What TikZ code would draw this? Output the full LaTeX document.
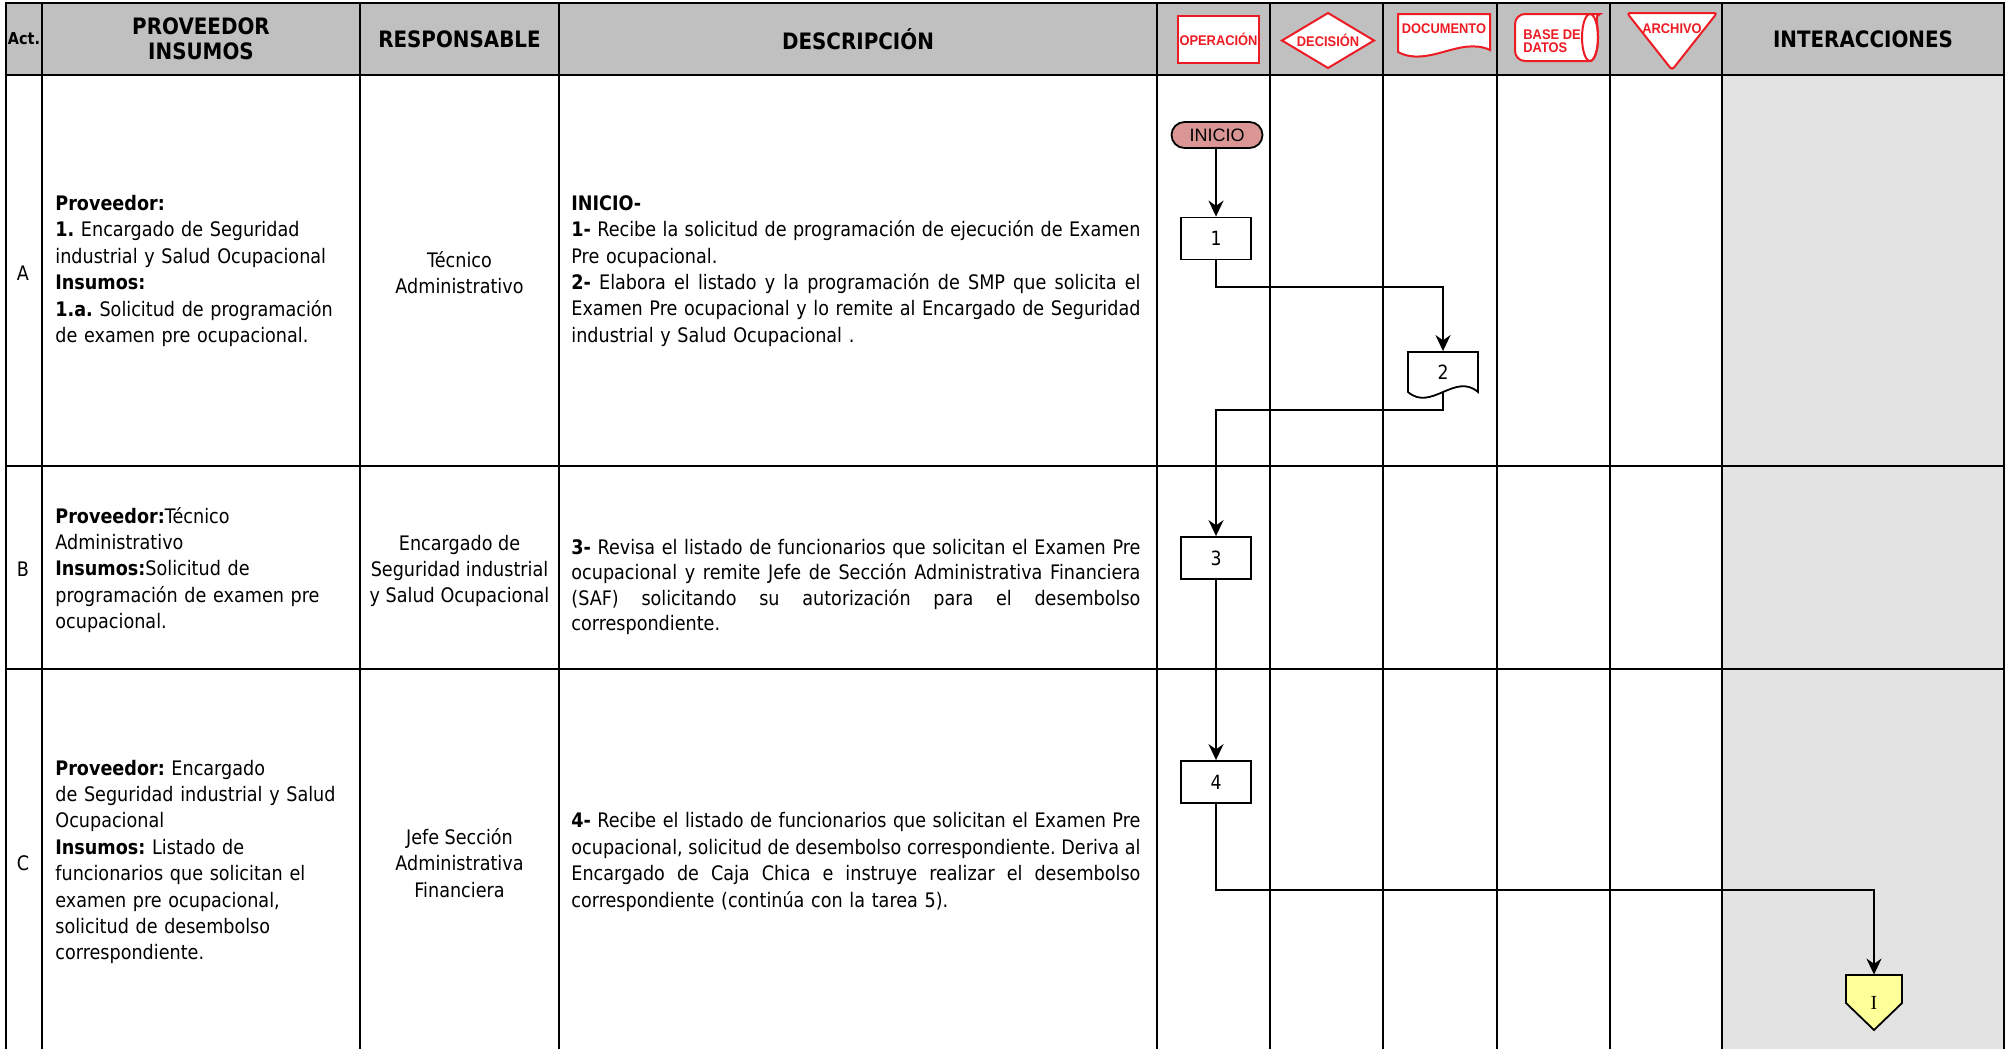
\documentclass[tikz,border=0pt]{standalone}
\usepackage{fontspec}
\setmainfont{DejaVu Sans}[FakeStretch=0.88]
\newfontfamily\arialf{Liberation Sans}
\newfontfamily\arialn{Liberation Sans}[FakeStretch=0.92]
\newfontfamily\timesf{Liberation Serif}
\usetikzlibrary{arrows.meta}
\definecolor{hdrgray}{RGB}{192,192,192}
\definecolor{intgray}{RGB}{227,227,227}
\definecolor{inicol}{RGB}{217,150,148}
\definecolor{pentcol}{RGB}{255,255,153}
\definecolor{symred}{RGB}{237,28,36}
\newlength\descw \setlength\descw{284.5pt}
\newcommand\jline[1]{{\spaceskip=0pt\xspaceskip=0pt\makebox[\descw][s]{#1}}}
\frenchspacing
\begin{document}
\begin{tikzpicture}[x=0.5pt,y=-0.5pt,
 gridline/.style={line width=1pt,black},
 body/.style={font=\frenchspacing\fontsize{10pt}{13.2pt}\selectfont, inner sep=0pt},
 hdr/.style={font=\fontsize{11.3pt}{12.5pt}\selectfont\bfseries, align=center, inner sep=0pt},
 lefttxt/.style={body, anchor=west, align=left, text width=152pt},
 resptxt/.style={body, align=center},
 desctxt/.style={body, anchor=west, align=left, text width=284.5pt},
 procbox/.style={draw, line width=0.9pt, fill=white, minimum width=35pt, minimum height=21pt, inner sep=0pt, font=\fontsize{9.8pt}{11pt}\selectfont},
 conn/.style={line width=1pt, -{Stealth[length=8pt,width=7.5pt,inset=2.6pt]}},
 sym/.style={draw=symred, line width=1pt, fill=white},
 symtxt/.style={text=symred, font=\arialn\bfseries\fontsize{7pt}{7pt}\selectfont, inner sep=0pt, align=left},
]
\fill[white] (0,0) rectangle (2011,1049);
\useasboundingbox (0,0) rectangle (2011,1049);
\fill[hdrgray] (6,3) rectangle (2004,75);
\fill[intgray] (1722,75) rectangle (2004,1049);
\foreach \x in {42,360,559,1157,1270,1383,1497,1610,1722} \draw[gridline] (\x,3) -- (\x,1049);
\draw[gridline] (2004,3) -- (2004,1049);
\draw[line width=1.4pt] (6,3) -- (6,1049);
\foreach \y in {75,466,669} \draw[gridline] (6,\y) -- (2004,\y);
\draw[line width=1.4pt] (5,3) -- (2005,3);

% header titles
\node[hdr, font=\bfseries\fontsize{8.2pt}{9pt}\selectfont] (hAct) at (24,39) {Act.};
\node[hdr] (hProv) at (201,39) {PROVEEDOR\\INSUMOS};
\node[hdr] (hResp) at (459.5,39) {RESPONSABLE};
\node[hdr] (hDesc) at (858,39) {DESCRIPCIÓN};
\node[hdr] (hInt) at (1863,39) {INTERACCIONES};

% header symbols
\node[sym, symtxt, minimum width=40.5pt, minimum height=23.5pt] (sOp) at (1218.5,39.5) {OPERACIÓN};
\draw[sym] (1282,40.5) -- (1328,13) -- (1374,40.5) -- (1328,68) -- cycle;
\node[symtxt] (sDec) at (1328,40) {DECISIÓN};
\draw[sym] (1398,14) -- (1490,14) -- (1490,50) .. controls (1460,36) and (1428,68) .. (1398,52) -- cycle;
\node[symtxt] (sDoc) at (1444,29) {DOCUMENTO};
\path[fill=white, draw=symred, line width=1pt] (1590,61) [rounded corners=5pt] -- (1515,61) -- (1515,14) -- (1590,14) [sharp corners] arc[start angle=90, end angle=-90, x radius=4pt, y radius=11.75pt] -- cycle;
\draw[symred, line width=1pt] (1590,37.5) ellipse [x radius=4pt, y radius=11.75pt];
\node[symtxt, anchor=west, font=\arialn\bfseries\fontsize{7pt}{6.6pt}\selectfont] (sBD) at (1523,41) {BASE DE\\DATOS};
\draw[sym, rounded corners=1.5pt] (1627,13) -- (1717,13) -- (1672,70) -- cycle;
\node[symtxt] (sArc) at (1672,29) {ARCHIVO};

% row letters
\node[body] (lA) at (23,273) {A};
\node[body] (lB) at (23,569) {B};
\node[body] (lC) at (23,863) {C};

% proveedor / insumos
\node[lefttxt] (provA) at (55,271) {\textbf{Proveedor:}\\
\textbf{1.} Encargado de Seguridad\\
industrial y Salud Ocupacional\\
\textbf{Insumos:}\\
\textbf{1.a.} Solicitud de programación\\
de examen pre ocupacional.};
\node[lefttxt] (provB) at (55,570) {\textbf{Proveedor:}Técnico\\
Administrativo\\
\textbf{Insumos:}Solicitud de\\
programación de examen pre\\
ocupacional.};
\node[lefttxt] (provC) at (55,862) {\textbf{Proveedor:} Encargado\\
de Seguridad industrial y Salud\\
Ocupacional\\
\textbf{Insumos:} Listado de\\
funcionarios que solicitan el\\
examen pre ocupacional,\\
solicitud de desembolso\\
correspondiente.};

% responsable
\node[resptxt] (respA) at (459.5,272.5) {Técnico\\Administrativo};
\node[resptxt] (respB) at (459.5,571) {Encargado de\\Seguridad industrial\\y Salud Ocupacional};
\node[resptxt] (respC) at (459.5,863) {Jefe Sección\\Administrativa\\Financiera};

% descripcion
\node[desctxt] (descA) at (571,271) {\textbf{INICIO-}\\
\jline{\textbf{1-} Recibe la solicitud de programación de ejecución de Examen}\\
Pre ocupacional.\\
\jline{\textbf{2-} Elabora el listado y la programación de SMP que solicita el}\\
\jline{Examen Pre ocupacional y lo remite al Encargado de Seguridad}\\
industrial y Salud Ocupacional .};
\node[desctxt, font=\fontsize{10pt}{12.7pt}\selectfont] (descB) at (571,587) {\jline{\textbf{3-} Revisa el listado de funcionarios que solicitan el Examen Pre}\\
\jline{ocupacional y remite Jefe de Sección Administrativa Financiera}\\
\jline{(SAF) solicitando su autorización para el desembolso}\\
correspondiente.};
\node[desctxt] (descC) at (571,862) {\jline{\textbf{4-} Recibe el listado de funcionarios que solicitan el Examen Pre}\\
\jline{ocupacional, solicitud de desembolso correspondiente. Deriva al}\\
\jline{Encargado de Caja Chica e instruye realizar el desembolso}\\
correspondiente (continúa con la tarea 5).};

% flow nodes
\node[draw, line width=0.9pt, fill=inicol, rounded corners=6.5pt, minimum width=45.5pt, minimum height=13pt, inner sep=0pt, font=\arialf\fontsize{9pt}{10pt}\selectfont] (ini) at (1217,135) {INICIO};
\node[procbox] (p1) at (1216,238.5) {1};
\node[procbox, draw=none, fill=none, minimum height=20pt] (d2) at (1443,372) {2};
\draw[line width=0.9pt] ([shift={(-35,-20)}]d2.center) -- ([shift={(35,-20)}]d2.center) -- ([shift={(35,20)}]d2.center) .. controls ([shift={(12,0)}]d2.center) and ([shift={(-12,40)}]d2.center) .. ([shift={(-35,20)}]d2.center) -- cycle;
\node[procbox] (p3) at (1216,558) {3};
\node[procbox] (p4) at (1216,782) {4};
\path node[minimum width=28pt, minimum height=27.5pt, inner sep=0pt] (itf) at (1874,1002.5) {};
\draw[line width=0.9pt, fill=pentcol] ([shift={(-28,-27.5)}]itf.center) -- ([shift={(28,-27.5)}]itf.center) -- ([shift={(28,0.5)}]itf.center) -- ([shift={(0,27.5)}]itf.center) -- ([shift={(-28,0.5)}]itf.center) -- cycle;
\node[font=\timesf\fontsize{10pt}{12pt}\selectfont, inner sep=0pt] (itfT) at (itf.center) {I};

% connectors
\draw[conn] (ini.south -| p1.north) -- (p1.north);
\draw[conn] (p1.south) -- ++(0,27) -| (d2.north);
\draw[conn] (d2.south) -- ++(0,17) -| (p3.north);
\draw[conn] (p3) -- (p4);
\draw[conn] (p4.south) -- ++(0,86) -| (itf.north);
\end{tikzpicture}
\end{document}
